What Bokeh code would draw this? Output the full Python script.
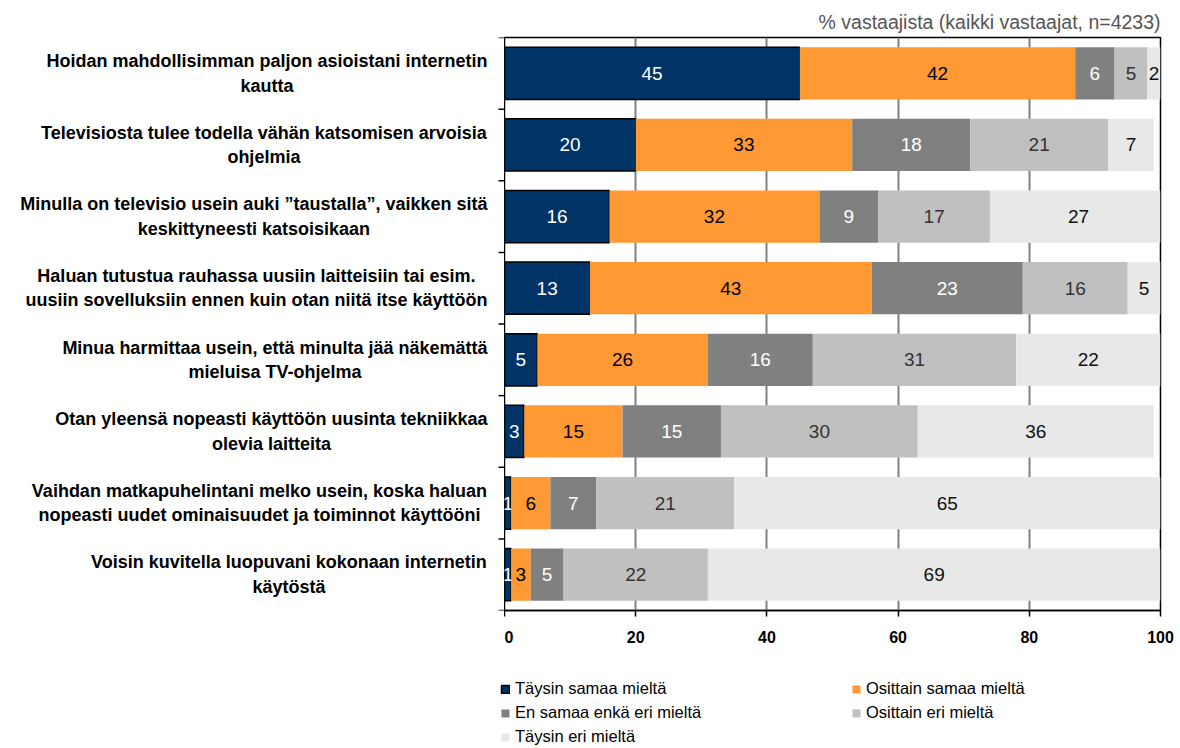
from bokeh.plotting import figure
from bokeh.layouts import row, column
from bokeh.models import (Range1d, LinearAxis, FixedTicker, Legend, LegendItem, ColumnDataSource)
from bokeh.core.properties import value
from bokeh.embed import file_html
from bokeh.resources import INLINE

categories = [
    "Hoidan mahdollisimman paljon asioistani internetin\nkautta",
    "Televisiosta tulee todella vähän katsomisen arvoisia\nohjelmia",
    "Minulla on televisio usein auki ”taustalla”, vaikken sitä\nkeskittyneesti katsoisikaan",
    "Haluan tutustua rauhassa uusiin laitteisiin tai esim.\nuusiin sovelluksiin ennen kuin otan niitä itse käyttöön",
    "Minua harmittaa usein, että minulta jää näkemättä\nmieluisa TV-ohjelma",
    "Otan yleensä nopeasti käyttöön uusinta tekniikkaa\nolevia laitteita",
    "Vaihdan matkapuhelintani melko usein, koska haluan\nnopeasti uudet ominaisuudet ja toiminnot käyttööni",
    "Voisin kuvitella luopuvani kokonaan internetin\nkäytöstä",
]
series_names = ["Täysin samaa mieltä", "Osittain samaa mieltä", "En samaa enkä eri mieltä",
                "Osittain eri mieltä", "Täysin eri mieltä"]
taysin_samaa = [45, 20, 16, 13, 5, 3, 1, 1]
osittain_samaa = [42, 33, 32, 43, 26, 15, 6, 3]
en_samaa_enka_eri = [6, 18, 9, 23, 16, 15, 7, 5]
osittain_eri = [5, 21, 17, 16, 31, 30, 21, 22]
taysin_eri = [2, 7, 27, 5, 22, 36, 65, 69]
x_ticks = [0, 20, 40, 60, 80, 100]
title_text = "% vastaajista (kaikki vastaajat, n=4233)"

series = [taysin_samaa, osittain_samaa, en_samaa_enka_eri, osittain_eri, taysin_eri]
colors = ["#003366", "#FF9933", "#808080", "#C0C0C0", "#E8E8E8"]
text_colors = ["#FFFFFF", "#000000", "#FFFFFF", "#333333", "#111111"]
line_colors = ["#000000", None, None, None, None]

FONT = "Liberation Sans"
LABEL_PX = 18
n = len(categories)
ypos = [n - i - 0.5 for i in range(n)]
boundaries = list(range(n + 1))

# Arial/Liberation Sans Bold advance widths (per 1000 em) to centre label lines in their block
_W = dict(zip("abcdefghijklmnopqrstuvwxyz", [556, 611, 556, 611, 556, 333, 611, 611, 278, 278, 556, 278,
                                             889, 611, 611, 611, 611, 389, 556, 333, 611, 556, 778, 556, 556, 500]))
_W.update({"ä": 556, "ö": 611, " ": 278, ",": 278, ".": 278, "”": 500, "-": 333,
           "H": 722, "T": 611, "M": 833, "O": 778, "V": 667})


def text_width(s, px):
    return sum(_W.get(ch, 600) for ch in s) * px / 1000.0


W_TOTAL = 1176
TOP_H = 672          # label + bar figures
LEG_H = 74           # legend strip
LEFT_W = 504         # label figure, its right edge is the bar frame's left edge
TOP, BOTTOM = 37, TOP_H - 610
LABEL_RIGHT = 487
TICK_LEN = 6

label_x = [LABEL_RIGHT - max(text_width(l, LABEL_PX) for l in c.split("\n")) / 2 for c in categories]

y_range = Range1d(0, n)

# ---- left figure: category labels and the category-boundary ticks
pl = figure(width=LEFT_W, height=TOP_H, output_backend="svg", toolbar_location=None,
            x_range=Range1d(0, LEFT_W), y_range=y_range, x_axis_location=None, y_axis_location=None,
            min_border_left=0, min_border_right=0, min_border_top=TOP, min_border_bottom=BOTTOM)
pl.outline_line_color = None
pl.xgrid.visible = False
pl.ygrid.visible = False
pl.text(x=label_x, y=ypos, text=categories, text_font=value(FONT), text_font_style="bold",
        text_font_size=f"{LABEL_PX}px", text_color="black", text_align="center",
        text_baseline="middle", text_line_height=1.22)
pl.segment(x0=[LEFT_W - TICK_LEN] * len(boundaries), x1=[LEFT_W] * len(boundaries),
           y0=boundaries, y1=boundaries, line_color="black", line_width=1.5)

# ---- right figure: bars
p = figure(width=W_TOTAL - LEFT_W, height=TOP_H, output_backend="svg", toolbar_location=None,
           y_range=y_range, x_range=Range1d(0, 100),
           y_axis_location=None, x_axis_location=None,
           min_border_left=0, min_border_right=W_TOTAL - 1160,
           min_border_top=TOP, min_border_bottom=BOTTOM)

p.title.text = title_text
p.title.align = "right"
p.title.text_font = FONT
p.title.text_font_size = "19.5px"
p.title.text_font_style = "normal"
p.title.text_color = "#555555"

p.outline_line_color = "black"
p.outline_line_width = 1.5

xa = LinearAxis(ticker=FixedTicker(ticks=x_ticks))
xa.axis_line_color = "black"
xa.axis_line_width = 1.5
xa.major_tick_line_color = "black"
xa.major_tick_line_width = 1.5
xa.major_tick_out = 6
xa.major_tick_in = 0
xa.minor_tick_line_color = None
xa.major_label_text_font = FONT
xa.major_label_text_font_style = "bold"
xa.major_label_text_font_size = "16px"
xa.major_label_text_color = "black"
xa.major_label_standoff = 14
p.add_layout(xa, "below")

p.xgrid.ticker = FixedTicker(ticks=x_ticks[1:-1])
p.xgrid.grid_line_color = "#808080"
p.xgrid.grid_line_width = 2
p.ygrid.grid_line_color = None

# ---- legend strip
pg = figure(width=W_TOTAL, height=LEG_H, output_backend="svg", toolbar_location=None,
            x_range=Range1d(0, 100), y_range=Range1d(0, n), x_axis_location=None, y_axis_location=None,
            min_border_left=0, min_border_right=0, min_border_top=0, min_border_bottom=0)
pg.outline_line_color = None
pg.xgrid.visible = False
pg.ygrid.visible = False

items = []
left = [0] * n
for name, vals, col, tcol, lcol in zip(series_names, series, colors, text_colors, line_colors):
    right = [l + v for l, v in zip(left, vals)]
    mid = [(l + r) / 2 for l, r in zip(left, right)]
    src = ColumnDataSource(dict(y=ypos, left=left, right=right, mid=mid,
                                lab=[str(v) for v in vals]))
    p.hbar(y="y", left="left", right="right", height=0.73, source=src,
           fill_color=col, line_color=lcol, line_width=1.5 if lcol else 0)
    p.text(x="mid", y="y", text="lab", source=src, text_font=value(FONT),
           text_font_size="19px", text_color=tcol, text_align="center",
           text_baseline="middle")
    # hidden twin of the series in the legend strip, used only for its legend swatch
    lr = pg.hbar(y="y", left="left", right="right", height=0.73, source=src, fill_color=col,
                 line_color=lcol, line_width=1.5 if lcol else 0, visible=False)
    items.append(LegendItem(label=name, renderers=[lr]))
    left = right

legend = Legend(items=items, location=(500, -1), orientation="horizontal", ncols=2,
                label_text_font=FONT, label_text_font_size="16.5px", label_text_color="black",
                glyph_width=10, glyph_height=10, label_standoff=5, label_width=333,
                label_height=21, spacing=3, padding=0, margin=0,
                border_line_color=None, background_fill_alpha=0)
pg.add_layout(legend, "center")

layout = column(row(pl, p, spacing=0), pg, spacing=0)
open("out.html", "w").write(file_html(layout, INLINE))
